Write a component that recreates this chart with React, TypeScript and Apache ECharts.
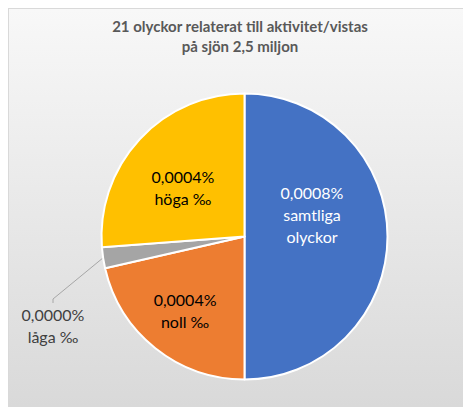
import React, { useEffect, useRef } from "react";
import * as echarts from "echarts";

const categories = ["samtliga\nolyckor", "noll ‰", "låga ‰", "höga ‰"];
const values = [0.00084, 0.00036, 0.00004, 0.00044];
const colors = ["#4472c4", "#ed7d31", "#a5a5a5", "#ffc000"];
const labelColors = ["#ffffff", "#000000", "#404040", "#000000"];
const titleText = "21 olyckor relaterat till aktivitet/vistas\npå sjön 2,5 miljon";
// label nudges (px) to mimic the original label placement
const labelDx = [-7, -13, 0, -7];
const labelDy = [-22, 16, 0, 2];

export default function App() {
  const ref = useRef<HTMLDivElement>(null);
  useEffect(() => {
    if (!ref.current) return;
    const chart = echarts.init(ref.current, null, { renderer: "svg" });
    const fmt = (v: number) => v.toFixed(4).replace(".", ",") + "%";
    chart.setOption({
      animation: false,
      backgroundColor: {
        type: "linear",
        x: 0,
        y: 0,
        x2: 0,
        y2: 1,
        colorStops: [
          { offset: 0, color: "#f8f8f8" },
          { offset: 1, color: "#d9d9d9" },
        ],
      },
      title: {
        text: titleText,
        left: "center",
        top: 2,
        textStyle: {
          fontFamily: "Lato",
          fontSize: 15,
          fontWeight: "bold",
          color: "#595959",
          lineHeight: 20,
        },
      },
      series: [
        {
          type: "pie",
          center: [235.5, 227.5],
          radius: [0, 143],
          startAngle: 90,
          clockwise: true,
          itemStyle: { borderColor: "#ffffff", borderWidth: 2 },
          label: {
            position: "inside",
            fontFamily: "Lato",
            fontSize: 16,
            lineHeight: 22,
            overflow: "none",
            formatter: (p: any) => fmt(p.value) + "\n" + p.name,
          },
          labelLayout: (p: any) =>
            p.dataIndex === 2
              ? { x: 44, y: 316, align: "center", verticalAlign: "middle" }
              : { dx: labelDx[p.dataIndex], dy: labelDy[p.dataIndex] },
          data: values.map((v, i) => ({
            value: v,
            name: categories[i],
            itemStyle: { color: colors[i] },
            label:
              i === 2
                ? { position: "outside", color: labelColors[i], align: "center", overflow: "none" }
                : { color: labelColors[i] },
            labelLine:
              i === 2
                ? { show: true, length: 10, length2: 4, lineStyle: { color: "#a6a6a6", width: 1 } }
                : undefined,
          })),
        },
      ],
    });
    return () => chart.dispose();
  }, []);
  return (
    <div
      ref={ref}
      style={{
        width: 463,
        height: 399,
        border: "1px solid #d9d9d9",
        boxSizing: "border-box",
        borderRight: "none",
        borderBottom: "none",
      }}
    />
  );
}
